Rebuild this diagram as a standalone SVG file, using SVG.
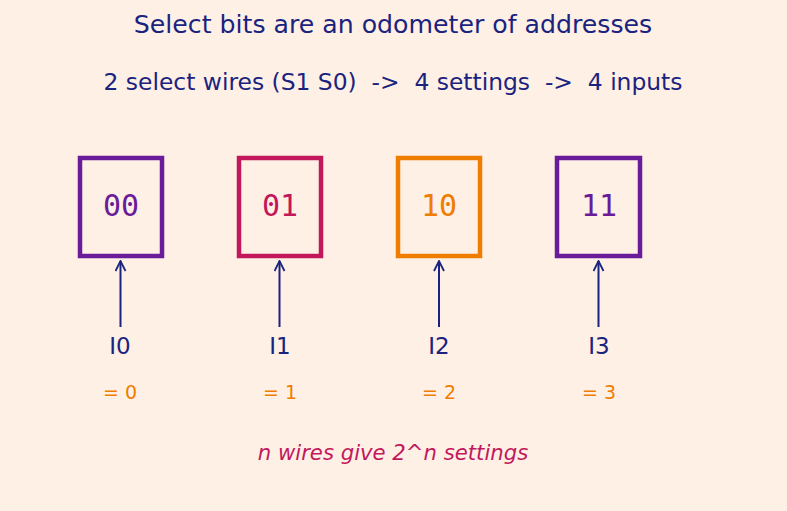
<svg xmlns="http://www.w3.org/2000/svg" width="787" height="511" viewBox="0 0 787 511">
<defs>
<style>
.t{font-family:"DejaVu Sans",sans-serif;fill:#1a237e;text-anchor:middle}
.m{font-family:"DejaVu Sans Mono",monospace;font-size:30px;text-anchor:middle}
.box{fill:none;stroke-width:4.5}
.eq{font-family:"DejaVu Sans",sans-serif;font-size:19px;fill:#ef7d00;text-anchor:middle}
.c{stroke:#1a237e;stroke-width:2;fill:none}
</style>
<marker id="ah" viewBox="0 0 12 12" refX="11" refY="6" markerWidth="12" markerHeight="12" markerUnits="userSpaceOnUse" orient="auto">
<path d="M1,1 L11,6 L1,11" fill="none" stroke="#1a237e" stroke-width="1.8"/>
</marker>
</defs>
<rect width="787" height="511" fill="#fff0e6"/>
<text class="t" x="393" y="33" font-size="25.2">Select bits are an odometer of addresses</text>
<text class="t" x="393" y="90" font-size="23.4" xml:space="preserve">2 select wires (S1 S0)  -&gt;  4 settings  -&gt;  4 inputs</text>
<g id="node-00"><rect class="box" x="80" y="158" width="82" height="98" stroke="#6a1b9a"/><text class="m" x="121" y="216" fill="#6a1b9a">00</text></g>
<g id="node-01"><rect class="box" x="239" y="158" width="82" height="98" stroke="#c2185b"/><text class="m" x="280" y="216" fill="#c2185b">01</text></g>
<g id="node-10"><rect class="box" x="398" y="158" width="82" height="98" stroke="#ef7d00"/><text class="m" x="439" y="216" fill="#ef7d00">10</text></g>
<g id="node-11"><rect class="box" x="557" y="158" width="83" height="98" stroke="#6a1b9a"/><text class="m" x="599" y="216" fill="#6a1b9a">11</text></g>
<g id="connectors">
<line class="c" x1="120.5" y1="327" x2="120.5" y2="261" marker-end="url(#ah)"/>
<line class="c" x1="279.5" y1="327" x2="279.5" y2="261" marker-end="url(#ah)"/>
<line class="c" x1="439" y1="327" x2="439" y2="261" marker-end="url(#ah)"/>
<line class="c" x1="598.5" y1="327" x2="598.5" y2="261" marker-end="url(#ah)"/>
</g>
<g id="in-0"><text class="t" x="120" y="354" font-size="23">I0</text><text class="eq" x="120" y="399">= 0</text></g>
<g id="in-1"><text class="t" x="280" y="354" font-size="23">I1</text><text class="eq" x="280" y="399">= 1</text></g>
<g id="in-2"><text class="t" x="439" y="354" font-size="23">I2</text><text class="eq" x="439" y="399">= 2</text></g>
<g id="in-3"><text class="t" x="599" y="354" font-size="23">I3</text><text class="eq" x="599" y="399">= 3</text></g>
<text x="393" y="460" font-family="DejaVu Sans,sans-serif" font-style="italic" font-size="21.2" fill="#c2185b" text-anchor="middle">n wires give 2^n settings</text>
</svg>
